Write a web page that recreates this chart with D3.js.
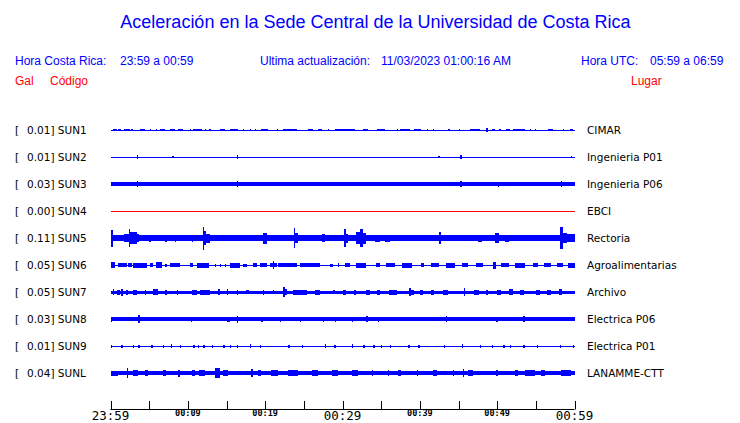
<!DOCTYPE html>
<html><head><meta charset="utf-8">
<script src="https://cdn.jsdelivr.net/npm/d3@7"></script>
<style>
html,body{margin:0;padding:0;background:#fff;}
svg{display:block;}
</style></head>
<body>
<svg id="chart" width="740" height="423"></svg>
<script>
// ---------- data ----------
const title = "Aceleración en la Sede Central de la Universidad de Costa Rica";
const crTime = "23:59 a 00:59";
const updated = "11/03/2023 01:00:16 AM";
const utcTime = "05:59 a 06:59";

const codes  = ["SUN1","SUN2","SUN3","SUN4","SUN5","SUN6","SUN7","SUN8","SUN9","SUNL"];
const gals   = ["0.01","0.01","0.03","0.00","0.11","0.05","0.05","0.03","0.01","0.04"];
const places = ["CIMAR","Ingenieria P01","Ingenieria P06","EBCI","Rectoria","Agroalimentarias","Archivo","Electrica P06","Electrica P01","LANAMME-CTT"];
const colors = ["#0000ff","#0000ff","#0000ff","#ff0000","#0000ff","#0000ff","#0000ff","#0000ff","#0000ff","#0000ff"];

// background envelope half-amplitude per station (relative units)
const baseAmp = [0.5, 0.5, 1.7, 0.5, 2.7, 0.5, 1.5, 1.8, 0.5, 2.0];

// bursts: [start minute, end minute, half-amplitude]
const ev1 = [[0.3,0.8,1.2],[1.0,1.4,1.2],[1.8,2.5,1.2],[2.7,2.9,1.2],[3.8,4.4,1.2],[5.1,5.1,1.2],[5.9,5.9,1.2],[6.4,7.0,1.2],[7.7,8.3,1.2],[8.7,9.4,1.2],[10.3,10.3,1.2],[10.7,11.8,1.2],[12.2,12.2,1.2],[12.8,12.8,1.2],[14.1,14.8,1.2],[15.4,16.5,1.2],[17.1,17.1,1.2],[18.0,18.0,1.2],[18.7,18.7,1.2],[19.5,20.4,1.2],[21.5,21.5,1.2],[22.3,24.1,1.2],[25.6,26.2,1.2],[26.8,27.3,1.2],[28.1,28.1,1.2],[29.0,31.6,1.2],[32.7,33.3,1.2],[34.4,35.5,1.2],[37.0,37.0,1.2],[37.4,38.7,1.2],[39.3,40.2,1.2],[40.9,40.9,1.2],[41.7,41.7,1.2],[43.7,43.7,1.2],[45.0,45.0,1.2],[46.5,47.8,1.2],[48.6,48.7,2.2],[49.3,49.7,1.2],[50.3,50.3,1.2],[51.2,51.6,1.2],[52.1,53.6,1.2],[54.2,54.2,1.2],[54.9,54.9,1.2],[56.6,57.2,1.2],[58.5,58.5,1.2],[59.4,59.8,1.2]];
const ev2 = [[3.4,3.6,1.8],[8.0,8.0,1.2],[16.3,16.4,1.8],[42.4,42.4,1.0],[45.2,45.4,1.8],[59.5,59.5,1.2]];
const ev3 = [[3.4,3.6,3.4],[16.3,16.4,2.7],[33.0,33.1,2.3],[45.2,45.4,2.7],[50.1,50.3,2.5],[58.2,58.3,2.7]];
const ev4 = [];
const ev5 = [[0,0.3,8.5],[0.3,1.6,3],[1.7,2.4,4],[2.4,2.5,9],[2.5,3.4,6],[3.4,3.7,4],[5.0,5.3,3.5],[7.0,7.3,3.5],[8.3,8.5,3.5],[10.5,10.7,3.5],[11.9,12.1,11.5],[12.1,12.4,7],[12.4,12.9,4.5],[13.5,14,3.3],[15,15.4,3.3],[17,17.5,3.3],[19.7,20.2,5.5],[21,21.3,3.3],[23.7,23.9,10],[23.9,24.3,5],[25.5,26,3.3],[27.3,27.7,3.8],[28.5,29,3.3],[30.2,30.4,8.8],[30.4,30.7,4.5],[31.8,32.2,6],[32.2,32.6,8.8],[32.6,33.1,5.5],[34.2,34.8,3.5],[35.5,36.2,3.5],[37.5,38,3.3],[42.5,42.7,6],[44,44.5,3.3],[46,46.5,3.3],[47.5,48,3.5],[49.7,50.3,5],[51,51.5,3.5],[53,53.5,3.3],[55.5,56,3.3],[58.1,58.5,11],[58.5,59,5],[59,60,4]];
const ev6 = [[0,0.6,2.7],[1.0,2.1,2],[2.3,2.8,2],[2.9,4.7,2.5],[5.1,5.5,2],[5.9,6.6,3],[7.0,7.3,1.5],[7.7,9.0,2],[10.3,10.7,2],[11.2,12.8,2.5],[13.5,13.5,1.5],[14.1,14.1,1.5],[14.8,14.8,1.5],[15.4,16.7,2.5],[17.1,17.6,1.5],[18.4,18.9,2],[19.3,20.2,2],[20.6,21.0,2],[21.0,21.1,3.7],[21.1,21.5,2],[21.6,24.1,2],[24.5,27.1,2],[28.4,28.8,1.5],[29.4,29.4,2],[30.3,31,2],[31.8,33,2.5],[34.3,34.8,2],[35.6,36.8,2],[37.7,39,2.5],[40.2,40.6,2],[41.5,42.5,2],[43.4,44.6,2.5],[45.5,46.2,2],[47.2,48.2,2],[49.5,49.8,3.5],[50.5,51.5,2],[52.3,53.6,2.5],[54.6,55.3,2],[56,57,2],[57.8,58.5,2],[59.2,60,2.5]];
const ev7 = [[0.3,0.5,3],[0.8,1.2,2.5],[1.4,1.5,3.5],[2.0,2.2,2.5],[2.9,3.4,2.5],[4.4,4.5,2.5],[5.5,6.1,3],[7.0,7.3,2.5],[8.6,8.7,2.5],[10.5,11.2,2.5],[11.6,12.9,2.5],[13.9,14.1,3],[15.0,15.2,3],[16.3,16.4,2.5],[17.5,17.9,2],[19.7,19.8,2.5],[21.0,21.1,2],[22.3,22.5,5],[22.5,22.8,3],[23.6,25.4,2.5],[26.4,27.1,2.5],[28.8,28.9,2],[30,30.4,2.5],[31.5,31.8,2.5],[33,33.5,2.5],[34.5,34.8,2.5],[36,37,2.5],[38.6,38.8,4],[38.8,39.3,2.5],[40,40.4,2.5],[41.5,41.8,2.5],[43,43.6,2.5],[45.7,45.9,3.8],[47,47.6,2.5],[48.5,48.8,2.5],[50,50.5,2.5],[51.5,52,3],[53,53.5,2.5],[55,55.5,2.5],[56.5,57,2.5],[58,58.4,3]];
const ev8 = [[0,0.2,2.5],[0.8,0.8,2.2],[3.6,3.7,4],[6.2,6.2,2.3],[7.7,7.7,2.3],[10.4,10.4,2.5],[11.8,11.8,2.3],[15.0,15.4,2.5],[16.3,16.4,3.5],[19.5,19.5,2.5],[21.9,21.9,2.5],[24.5,24.5,2.5],[27.5,27.5,2.5],[29.0,29.0,2.5],[31.2,31.2,2.5],[33.1,33.1,2.8],[34.6,34.6,2.5],[36.8,36.8,2.3],[40.2,40.2,2.3],[43.4,43.4,2.8],[45.6,45.6,2.3],[49.9,49.9,2.5],[51.9,51.9,2.3],[53.4,53.4,2.8],[58.1,59.8,2.2]];
const ev9 = [[0.0,0.0,1.5],[1.4,1.4,1.5],[2.9,2.9,1.5],[3.6,3.6,1.5],[5.3,5.3,1.5],[6.8,6.8,1.5],[7.8,8.0,2],[9.0,9.0,1.5],[10.7,10.7,1.5],[11.3,11.3,1.5],[12.0,12.0,1.5],[13.1,13.1,1.5],[14.6,14.6,1.5],[15.4,15.4,1.5],[16.3,16.3,1.5],[18.0,18.1,2],[19.3,19.3,1.5],[23.0,23.0,1.5],[24.7,24.7,1.5],[27.7,27.8,2],[28.9,29.2,1.5],[31.2,31.3,2],[32.7,32.7,1.5],[34.0,34.0,1.5],[35.0,35.0,1.5],[36.1,36.1,1.5],[38.5,38.5,1.5],[39.8,39.8,1.5],[43.1,43.3,1.5],[45.4,45.5,2],[47.8,47.8,1.5],[49.3,49.3,1.5],[50.8,50.8,1.5],[51.6,51.6,1.5],[53.4,53.4,1.5],[55.1,55.1,1.5],[58.1,58.1,1.5],[59.8,59.8,1.5]];
const ev10 = [[0,1.0,2.5],[2.1,2.2,4.7],[2.9,3.6,3],[4.4,4.9,3],[6.8,7.2,3],[8.7,9.0,3.5],[10.5,10.9,3],[11.5,12.2,3],[13.5,14.1,4.7],[14.6,15.2,3],[18.2,18.3,4],[19.1,19.5,3],[20.8,21.7,3],[23.0,24.3,3],[26.0,26.8,3],[28.6,29.4,3],[31.2,32.0,3],[33.8,33.8,3],[35.9,35.9,3],[37.2,37.6,3],[39.6,39.6,3],[41.7,42.2,3],[44.3,44.3,3],[45.6,45.7,4],[46.2,46.9,3],[49.9,49.9,3],[52.3,52.7,3],[53.6,54.9,3],[55.7,56.2,3],[58.3,59.6,3]];
const events = [ev1,ev2,ev3,ev4,ev5,ev6,ev7,ev8,ev9,ev10];

// time axis (minutes after 23:59)
const tickMinutes = [0,5,10,15,20,25,30,35,40,45,50,55,60];
const labelMinutes = [0,10,20,30,40,50,60];
const labelTexts = ["23:59","00:09","00:19","00:29","00:39","00:49","00:59"];
const bigLabels = ["23:59","00:29","00:59"];

// ---------- drawing ----------
const svg = d3.select("#chart");
const sans = "'Liberation Sans', Arial, sans-serif";
const dejavu = "'DejaVu Sans', sans-serif";
const mono = "'DejaVu Sans Mono', monospace";

const x = d3.scaleLinear().domain([0,60]).range([110.5,574.5]);
const row = d3.scalePoint().domain(codes).range([130,373]);
const amp = d3.scaleLinear().domain([0,12]).range([0,12]);

// title & header
svg.append("text").attr("x",375.5).attr("y",28).attr("text-anchor","middle")
  .attr("font-family",sans).attr("font-size",18).attr("fill","#0000ff").text(title);
const hdr = [
  [15,"Hora Costa Rica:"],[120,crTime],[260,"Ultima actualización:"],[381,updated],[581,"Hora UTC:"],[650,utcTime]
];
svg.selectAll("text.hdr").data(hdr).enter().append("text").attr("class","hdr")
  .attr("x",d=>d[0]).attr("y",65).attr("font-family",sans).attr("font-size",12)
  .attr("fill","#0000ff").text(d=>d[1]);
const hdr2 = [[15,"Gal"],[50,"Código"],[631,"Lugar"]];
svg.selectAll("text.hdr2").data(hdr2).enter().append("text").attr("class","hdr2")
  .attr("x",d=>d[0]).attr("y",85).attr("font-family",sans).attr("font-size",12)
  .attr("fill","#ff0000").text(d=>d[1]);

// rows
codes.forEach((c,i)=>{
  const y0 = row(c);
  const g = svg.append("g");
  g.append("text").attr("x",15).attr("y",y0+4).attr("font-family",dejavu).attr("font-size",10.5)
    .attr("fill","#000").text("[");
  g.append("text").attr("x",27).attr("y",y0+4).attr("font-family",dejavu).attr("font-size",10.5)
    .attr("fill","#000").text(gals[i]+"] "+c);
  g.append("text").attr("x",587).attr("y",y0+4).attr("font-family",dejavu).attr("font-size",10.5)
    .attr("fill","#000").text(places[i]);
  const tg = g.append("g").attr("shape-rendering","crispEdges");
  const b = amp(baseAmp[i]);
  tg.append("rect").attr("x",x(0)).attr("width",x(60)-x(0))
    .attr("y",y0-b).attr("height",2*b).attr("fill",colors[i]);
  tg.selectAll("rect.ev").data(events[i]).enter().append("rect").attr("class","ev")
    .attr("x",d=>x(d[0]))
    .attr("width",d=>Math.max(1.3, x(d[1])-x(d[0])))
    .attr("y",d=>y0-amp(d[2]))
    .attr("height",d=>2*amp(d[2]))
    .attr("fill",colors[i]);
});

// axis
const axG = svg.append("g");
axG.append("line").attr("x1",x(0)).attr("x2",x(60)).attr("y1",409.5).attr("y2",409.5)
  .attr("stroke","#000").attr("stroke-width",1);
axG.selectAll("line.tk").data(tickMinutes).enter().append("line").attr("class","tk")
  .attr("x1",d=>Math.round(x(d))+0.5).attr("x2",d=>Math.round(x(d))+0.5)
  .attr("y1",401).attr("y2",409.5).attr("stroke","#000").attr("stroke-width",1);
axG.selectAll("text.tl").data(labelMinutes).enter().append("text").attr("class","tl")
  .attr("x",d=>x(d)).attr("text-anchor","middle")
  .attr("y",(d,i)=>bigLabels.includes(labelTexts[i])?420:416)
  .attr("font-family",mono)
  .attr("font-size",(d,i)=>bigLabels.includes(labelTexts[i])?12.5:8.5)
  .attr("font-weight",(d,i)=>bigLabels.includes(labelTexts[i])?"normal":"bold")
  .attr("fill","#000")
  .text((d,i)=>labelTexts[i]);
</script>
</body></html>
